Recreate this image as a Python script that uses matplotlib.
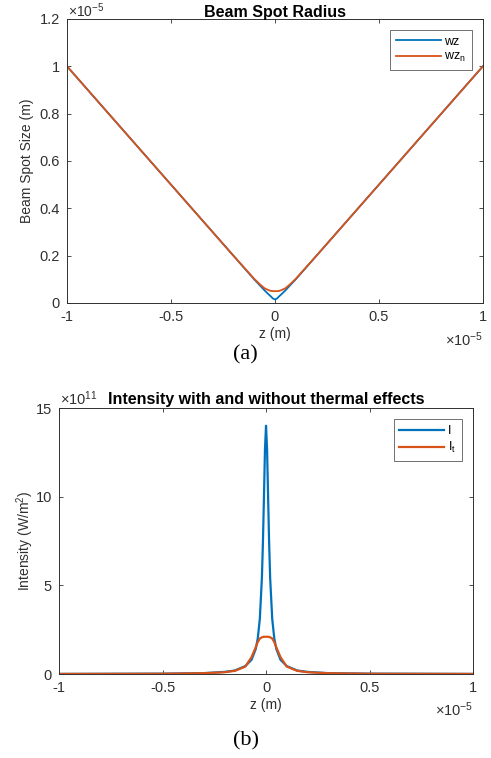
import matplotlib.pyplot as plt
import numpy as np

# data (z in units of 1e-5 m)
z_w = [-1, -0.5, -0.2, -0.1, -0.07, -0.05, -0.03, -0.02, -0.01, 0,
       0.01, 0.02, 0.03, 0.05, 0.07, 0.1, 0.2, 0.5, 1]
wz = [1.0, 0.5, 0.2, 0.1, 0.072, 0.053, 0.036, 0.028, 0.019, 0.015,
      0.019, 0.028, 0.036, 0.053, 0.072, 0.1, 0.2, 0.5, 1.0]
wz_n = [1.0, 0.5, 0.2, 0.102, 0.077, 0.062, 0.054, 0.051, 0.05, 0.05,
        0.05, 0.051, 0.054, 0.062, 0.077, 0.102, 0.2, 0.5, 1.0]

z_i = [-1, -0.5, -0.3, -0.2, -0.15, -0.1, -0.07, -0.05, -0.04, -0.03, -0.02,
       -0.015, -0.01, -0.005, 0, 0.005, 0.01, 0.015, 0.02, 0.03, 0.04, 0.05,
       0.07, 0.1, 0.15, 0.2, 0.3, 0.5, 1]
I = [0.005, 0.02, 0.05, 0.12, 0.2, 0.45, 0.8, 1.4, 2.0, 3.1, 5.4,
     7.4, 10.0, 12.7, 14.0, 12.7, 10.0, 7.4, 5.4, 3.1, 2.0, 1.4,
     0.8, 0.45, 0.2, 0.12, 0.05, 0.02, 0.005]
I_t = [0.004, 0.015, 0.045, 0.1, 0.18, 0.42, 0.95, 1.5, 1.8, 2.0, 2.07,
       2.09, 2.1, 2.1, 2.1, 2.1, 2.1, 2.09, 2.07, 2.0, 1.8, 1.5,
       0.95, 0.42, 0.18, 0.1, 0.045, 0.015, 0.004]

blue = '#0072BD'
orange = '#D95319'
gray = '#303030'
plt.rcParams['font.family'] = ['Liberation Sans', 'DejaVu Sans']
plt.rcParams['mathtext.fontset'] = 'custom'
plt.rcParams['mathtext.rm'] = 'Liberation Sans'
plt.rcParams['mathtext.it'] = 'Liberation Sans'

fig = plt.figure(figsize=(4.91, 7.58), dpi=100)


def style(ax):
    ax.tick_params(direction='in', top=True, right=True, labelsize=10.5,
                   colors=gray, length=3, width=0.6, pad=5)
    for s in ax.spines.values():
        s.set_color(gray)
        s.set_linewidth(0.7)


ax1 = fig.add_axes([0.1365, 0.6003, 0.847, 0.3747])
ax1.plot(z_w, wz, color=blue, lw=1.3, label='wz')
ax1.plot(z_w, wz_n, color=orange, lw=1.3, label='wz$_\\mathrm{n}$')
ax1.set_xlim(-1, 1)
ax1.set_ylim(0, 1.2)
ax1.set_xticks([-1, -0.5, 0, 0.5, 1])
ax1.set_yticks([0, 0.2, 0.4, 0.6, 0.8, 1, 1.2])
ax1.set_xticklabels(['-1', '-0.5', '0', '0.5', '1'])
ax1.set_yticklabels(['0', '0.2', '0.4', '0.6', '0.8', '1', '1.2'])
style(ax1)
ax1.set_title('Beam Spot Radius', fontsize=11.5, fontweight='bold', pad=1.5)
ax1.set_xlabel('z (m)', fontsize=10, labelpad=2, color=gray)
ax1.set_ylabel('Beam Spot Size (m)', fontsize=10, labelpad=4, color=gray)
ax1.text(0.003, 0.997, r'$\times10^{-5}$', transform=ax1.transAxes,
         fontsize=10, color=gray, va='bottom', ha='left')
ax1.text(1.0, -0.095, r'$\times10^{-5}$', transform=ax1.transAxes,
         fontsize=10.5, color=gray, va='top', ha='right')
leg = ax1.legend(loc='upper right', fontsize=9, fancybox=False,
                 handlelength=3.6, borderaxespad=0.9, handletextpad=0.3,
                 labelspacing=0.25, borderpad=0.45)
leg.get_frame().set_edgecolor(gray)
leg.get_frame().set_linewidth(0.6)
fig.text(0.5, 0.532, '(a)', fontsize=16, ha='center', va='center',
         family='Liberation Serif')

ax2 = fig.add_axes([0.1202, 0.1108, 0.8432, 0.3509])
ax2.plot(z_i, I, color=blue, lw=1.6, label='I')
ax2.plot(z_i, I_t, color=orange, lw=1.6, label='I$_\\mathrm{t}$')
ax2.set_xlim(-1, 1)
ax2.set_ylim(0, 15)
ax2.set_xticks([-1, -0.5, 0, 0.5, 1])
ax2.set_yticks([0, 5, 10, 15])
ax2.set_xticklabels(['-1', '-0.5', '0', '0.5', '1'])
ax2.set_yticklabels(['0', '5', '10', '15'])
style(ax2)
ax2.set_title('Intensity with and without thermal effects', fontsize=11.5,
              fontweight='bold', pad=3)
ax2.set_xlabel('z (m)', fontsize=10, labelpad=2, color=gray)
ax2.set_ylabel('Intensity (W/m$^2$)', fontsize=10, labelpad=0, color=gray)
ax2.text(0.003, 1.0, r'$\times10^{11}$', transform=ax2.transAxes,
         fontsize=10.5, color=gray, va='bottom', ha='left')
ax2.text(1.0, -0.1, r'$\times10^{-5}$', transform=ax2.transAxes,
         fontsize=10.5, color=gray, va='top', ha='right')
leg2 = ax2.legend(loc='upper right', fontsize=9, fancybox=False,
                  handlelength=3.6, borderaxespad=0.9, handletextpad=0.3,
                  labelspacing=0.25, borderpad=0.45)
leg2.get_frame().set_edgecolor(gray)
leg2.get_frame().set_linewidth(0.6)
fig.text(0.5, 0.022, '(b)', fontsize=16, ha='center', va='center',
         family='Liberation Serif')

plt.savefig('out.png', dpi=100)
